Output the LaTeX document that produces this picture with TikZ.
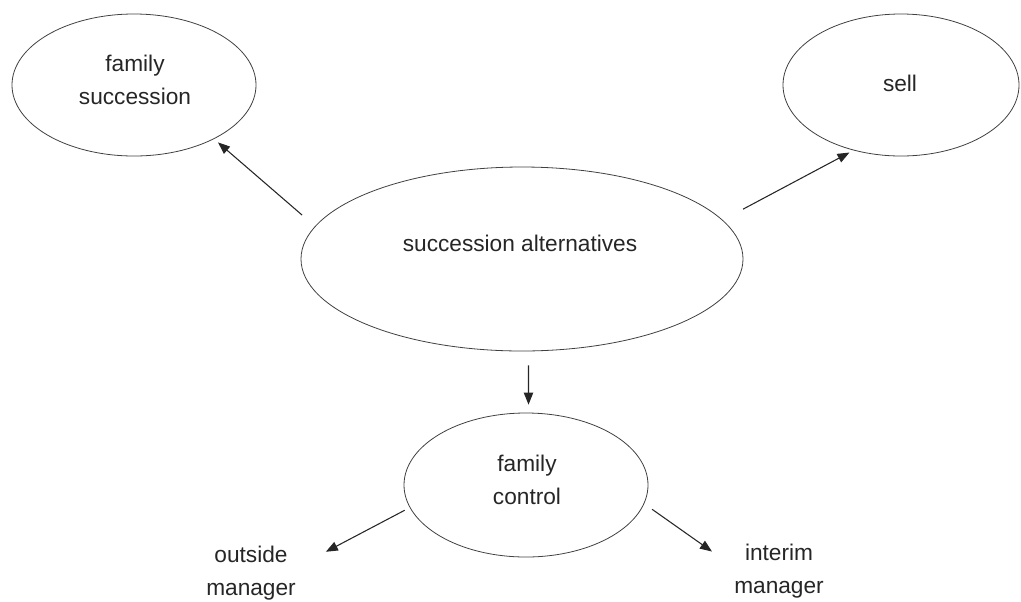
\documentclass[tikz,border=0pt]{standalone}
\usepackage{fontspec}
\setmainfont{Liberation Sans}
\usetikzlibrary{shapes.geometric,arrows.meta}
\begin{document}
\begin{tikzpicture}[x=0.75pt,y=-0.75pt]
\tikzstyle{bulle}=[draw=black!75, ellipse, line width=0.6pt, inner sep=0pt];
\tikzstyle{etiquette}=[align=center, inner sep=0pt, font=\fontsize{17}{24.5}\selectfont, text=black!85];
\tikzstyle{fleche}=[-{Triangle[length=9pt,width=7pt]}, line width=0.8pt, black!85];
\useasboundingbox (0,0) rectangle (1021,601);

\node[bulle, minimum width=183pt, minimum height=106.5pt] (famille) at (134,85) {};
\node[bulle, minimum width=177pt, minimum height=106.5pt] (vente) at (901,85) {};
\node[bulle, minimum width=331.5pt, minimum height=138pt] (choix) at (522,259) {};
\node[bulle, minimum width=183pt, minimum height=108pt] (controle) at (526,485) {};

\node[etiquette] (famille-t) at (135,80) {family\\succession};
\node[etiquette] (vente-t) at (900,83) {sell};
\node[etiquette] (choix-t) at (520,243) {succession alternatives};
\node[etiquette] (controle-t) at (527,480) {family\\control};
\node[etiquette] (externe) at (251,573) {outside\\manager};
\node[etiquette] (interim) at (779,571) {interim\\manager};

\draw (choix.171) edge[fleche, shorten <=12.8pt, shorten >=3.9pt] (famille.-34);
\draw (choix.11) edge[fleche, shorten <=17.3pt, shorten >=3.4pt] (vente.-126);
\draw (choix.-86) edge[fleche, shorten <=10.5pt, shorten >=6pt] (controle.88);
\draw (controle.191) edge[fleche, shorten <=4.3pt, shorten >=25.3pt] (externe.7);
\draw (controle.-9) edge[fleche, shorten <=7.2pt, shorten >=20.2pt] (interim.175);
\end{tikzpicture}
\end{document}
